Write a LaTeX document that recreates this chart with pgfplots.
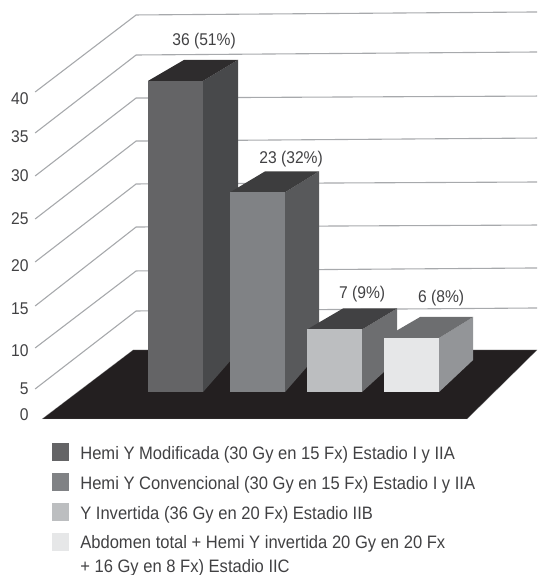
\documentclass[border=0pt]{standalone}
\usepackage{pgfplots}
\pgfplotsset{compat=1.18}
\usepackage{fontspec}
\setmainfont{Liberation Sans}[FakeStretch=0.92]
\definecolor{txt}{HTML}{414143}
\definecolor{gridc}{HTML}{A7A9AC}
\definecolor{floorc}{HTML}{231F20}
\definecolor{aF}{HTML}{646466}\definecolor{aS}{HTML}{48494B}\definecolor{aT}{HTML}{2E2C2D}
\definecolor{bF}{HTML}{808285}\definecolor{bS}{HTML}{58595B}\definecolor{bT}{HTML}{3D3D3E}
\definecolor{cF}{HTML}{BCBEC0}\definecolor{cS}{HTML}{6D6E70}\definecolor{cT}{HTML}{414143}
\definecolor{dF}{HTML}{E6E7E8}\definecolor{dS}{HTML}{939598}\definecolor{dT}{HTML}{6D6E70}
\begin{document}
\begin{tikzpicture}
\begin{axis}[
  x=1pt, y=8.57pt,
  xmin=0, xmax=537, ymin=-21.657, ymax=45.438,
  clip=false,
  axis line style={draw=none},
  major tick length=0pt,
  xtick=\empty,
  ytick={-2.97,0.06,4.50,9.40,14.42,19.9,24.92,29.47,33.88},
  yticklabels={0,5,10,15,20,25,30,35,40},
  yticklabel style={font=\fontsize{17}{20}\selectfont, text=txt, anchor=east, xshift=32pt,
    /pgf/number format/assume math mode=true},
  legend style={at={(axis cs:52,-6.25)}, anchor=north west, draw=none, fill=none,
    font=\fontsize{18}{20}\selectfont, text=txt, row sep=9.6pt, column sep=9pt,
    inner xsep=0pt, inner ysep=0pt},
  legend cell align=left,
  legend image code/.code={\path[#1,draw=none] (0pt,-7pt) rectangle (17pt,11pt);},
]
% back wall: each level runs along the left wall, then across the back
\addplot[gridc, line width=1.1pt, forget plot] coordinates {(35,34.70)(136,43.69)(537,44.04)};
\addplot[gridc, line width=1.1pt, forget plot] coordinates {(35,29.92)(136,39.02)(537,39.37)};
\addplot[gridc, line width=1.1pt, forget plot] coordinates {(35,24.90)(136,34.00)(537,34.23)};
\addplot[gridc, line width=1.1pt, forget plot] coordinates {(35,19.88)(136,28.98)(537,29.33)};
\addplot[gridc, line width=1.1pt, forget plot] coordinates {(35,14.87)(136,23.97)(537,24.20)};
\addplot[gridc, line width=1.1pt, forget plot] coordinates {(35,9.73)(136,18.95)(537,19.18)};
\addplot[gridc, line width=1.1pt, forget plot] coordinates {(35,4.83)(136,13.82)(537,14.17)};
\addplot[gridc, line width=1.1pt, forget plot] coordinates {(35,0.05)(136,9.15)(537,9.50)};
% floor
\addplot[fill=floorc, draw=gridc, draw opacity=0.5, line width=0.4pt, forget plot]
  coordinates {(42,-3.45)(133,4.60)(537,4.60)(467,-3.45)} -- cycle;
% first bar: side, top, front
\addplot[fill=aS, draw=none, forget plot] coordinates {(203,-0.30)(203,36)(238,38.45)(238,4.36)} -- cycle;
\addplot[fill=aT, draw=none, forget plot] coordinates {(148,36)(203,36)(238,38.45)(184,38.45)} -- cycle;
\addplot[fill=aF, draw=none] coordinates {(148,-0.30)(148,36)(203,36)(203,-0.30)} -- cycle;
% second bar
\addplot[fill=bS, draw=none, forget plot] coordinates {(285,-0.30)(285,23)(319,25.45)(319,4.25)} -- cycle;
\addplot[fill=bT, draw=none, forget plot] coordinates {(230,23)(285,23)(319,25.45)(265,25.45)} -- cycle;
\addplot[fill=bF, draw=none] coordinates {(230,-0.30)(230,23)(285,23)(285,-0.30)} -- cycle;
% third bar
\addplot[fill=cS, draw=none, forget plot] coordinates {(362,-0.30)(362,7)(397,9.45)(397,3.43)} -- cycle;
\addplot[fill=cT, draw=none, forget plot] coordinates {(307,7)(362,7)(397,9.45)(343,9.45)} -- cycle;
\addplot[fill=cF, draw=none] coordinates {(307,-0.30)(307,7)(362,7)(362,-0.30)} -- cycle;
% fourth bar
\addplot[fill=dS, draw=none, forget plot] coordinates {(439,-0.30)(439,6)(473,8.45)(473,3.43)} -- cycle;
\addplot[fill=dT, draw=none, forget plot] coordinates {(384,6)(439,6)(473,8.45)(420,8.45)} -- cycle;
\addplot[fill=dF, draw=none] coordinates {(384,-0.30)(384,6)(439,6)(439,-0.30)} -- cycle;
\legend{Hemi Y Modificada (30 Gy en 15 Fx) Estadio I y IIA,
  Hemi Y Convencional (30 Gy en 15 Fx) Estadio I y IIA,
  Y Invertida (36 Gy en 20 Fx) Estadio IIB,
  {\raisebox{0pt}[10pt]{\begin{tabular}[t]{@{}l@{}}Abdomen total + Hemi Y invertida 20 Gy en 20 Fx\\[4pt]+ 16 Gy en 8 Fx) Estadio IIC\end{tabular}}}}
% value labels above the bars
\begin{scope}[every node/.style={font=\fontsize{17}{20}\selectfont, text=txt}]
\node at (axis cs:204,40.64) {36 (51\%)};
\node at (axis cs:291,26.89) {23 (32\%)};
\node at (axis cs:362,11.13) {7 (9\%)};
\node at (axis cs:441,10.67) {6 (8\%)};
\end{scope}
\end{axis}
\end{tikzpicture}
\end{document}
